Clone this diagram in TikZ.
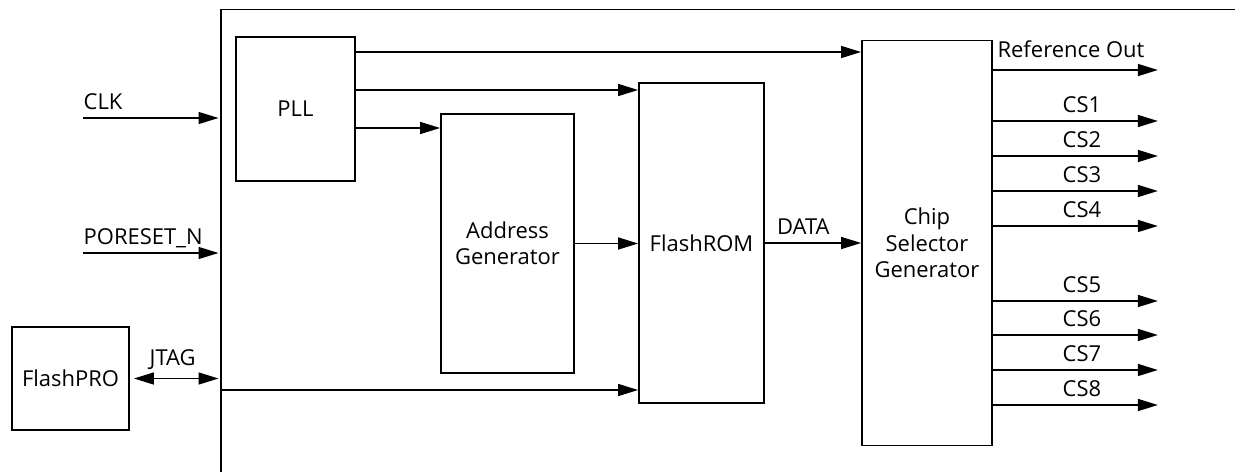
\documentclass[tikz,border=0pt]{standalone}
\usepackage{fontspec}
\setmainfont{Open Sans}
\usetikzlibrary{arrows.meta,positioning}

\begin{document}
\begin{tikzpicture}[
  block/.style={draw, line width=1pt, align=center, inner sep=0pt},
  sig/.style={line width=0.8pt, -{Triangle[length=4mm,width=2.4mm]}},
  lbl/.style={inner sep=0pt, text depth=0pt},
  font=\fontsize{12.5}{15}\selectfont]

\useasboundingbox (0,0) rectangle (24.7,-9.44);

% device frame, runs off at bottom and right
\coordinate (fbot) at (4.42,-9.44);
\coordinate (ftop) at (4.42,-0.19);
\coordinate (fright) at (24.7,-0.19);
\draw[line width=1pt] (fbot) -- (ftop) -- (fright);

\node[block, minimum width=2.38cm, minimum height=2.88cm] (pll) at (5.91,-2.18) {PLL};
\node[block, minimum width=2.66cm, minimum height=5.18cm] (addrgen) at (10.15,-4.87) {Address\\Generator};
\node[block, minimum width=2.5cm, minimum height=6.4cm] (flashrom) at (14.03,-4.86) {FlashROM};
\node[block, minimum width=2.6cm, minimum height=8.1cm] (chipsel) at (18.54,-4.86) {Chip\\Selector\\Generator};
\node[block, minimum width=2.34cm, minimum height=2.06cm] (flashpro) at (1.41,-7.57) {FlashPRO};

% external inputs
\coordinate (clkin) at (1.66,-2.36);
\coordinate (rstin) at (1.66,-5.06);
\coordinate (jtagin) at (4.42,-7.8);
\draw[sig, shorten >=0.05cm] (clkin) -- (clkin -| ftop) node[pos=0, lbl, above right=0.16cm and 0pt] {CLK};
\draw[sig, shorten >=0.05cm] (rstin) -- (rstin -| ftop) node[pos=0, lbl, above right=0.16cm and 0pt] {PORESET\_N};
\draw[line width=0.8pt, {Triangle[length=4mm,width=2.4mm]}-{Triangle[length=4mm,width=2.4mm]}, shorten <=0.08cm, shorten >=0.05cm]
  (flashpro.east) -- (flashpro.east -| ftop) node[pos=0.47, lbl, above=0.24cm] {JTAG};
\draw[sig] (jtagin) -- (jtagin -| flashrom.west);

% PLL clocks
\draw[sig] ([yshift=1.14cm]pll.east) -- ([yshift=1.14cm]pll.east -| chipsel.west);
\draw[sig] ([yshift=0.38cm]pll.east) -- ([yshift=0.38cm]pll.east -| flashrom.west);
\draw[sig] ([yshift=-0.38cm]pll.east) -- ([yshift=-0.38cm]pll.east -| addrgen.west);

\draw[sig] (addrgen.east) -- (addrgen.east -| flashrom.west);
\draw[sig] (flashrom.east) -- (flashrom.east -| chipsel.west) node[pos=0.4, lbl, above=0.16cm] {DATA};

% outputs
\draw[sig] ([yshift=3.46cm]chipsel.east) -- ++(3.3,0) node[pos=0, lbl, above right=0.24cm and 0.08cm] {Reference Out};
\foreach \nm/\dy in {CS1/2.44, CS2/1.74, CS3/1.04, CS4/0.34, CS5/-1.16, CS6/-1.84, CS7/-2.54, CS8/-3.24}
  \draw[sig] ([yshift=\dy cm]chipsel.east) -- ++(3.3,0) node[pos=0.54, lbl, above=0.16cm] {\nm};

\end{tikzpicture}
\end{document}
